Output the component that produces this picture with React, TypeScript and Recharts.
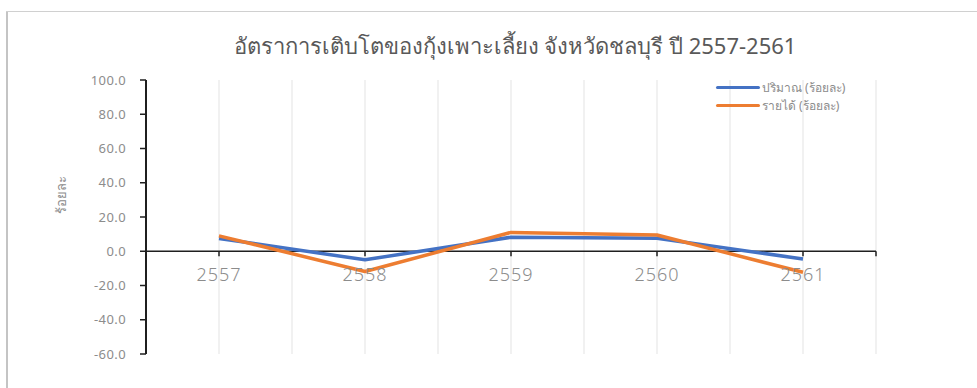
import { LineChart, Line, XAxis, YAxis, CartesianGrid, ReferenceLine } from "recharts";

const years = [2557, 2558, 2559, 2560, 2561];
const volumePct = [7.5, -5.0, 8.2, 7.6, -4.5];
const incomePct = [9.0, -11.8, 11.0, 9.5, -12.3];
const yTicks = [-60, -40, -20, 0, 20, 40, 60, 80, 100];
const xGridTicks = [2557, 2557.5, 2558, 2558.5, 2559, 2559.5, 2560, 2560.5, 2561, 2561.5];

const TITLE = "อัตราการเติบโตของกุ้งเพาะเลี้ยง จังหวัดชลบุรี ปี 2557-2561";
const Y_LABEL = "ร้อยละ";
const VOLUME_NAME = "ปริมาณ (ร้อยละ)";
const INCOME_NAME = "รายได้ (ร้อยละ)";

const data = years.map((year, i) => ({
  year,
  volume: volumePct[i],
  income: incomePct[i],
}));

// full-bleed page, the chart owns the whole window
document.body.style.margin = "0";
document.body.style.overflow = "hidden";
document.documentElement.style.overflow = "hidden";

const W = 977;
const H = 388;
const MARGIN = { top: 80, right: 101, bottom: 4, left: 0 };
const X_AXIS_H = 30;
const Y_AXIS_W = 146;
const Y_DOMAIN: [number, number] = [-60, 100];

// y pixel of the zero line, used to hang the category labels off it
const plotH = H - MARGIN.top - MARGIN.bottom - X_AXIS_H;
const zeroY = MARGIN.top + (plotH * (Y_DOMAIN[1] - 0)) / (Y_DOMAIN[1] - Y_DOMAIN[0]);

const COLORS = {
  volume: "#4472C4",
  income: "#ED7D31",
  axis: "#1f1f1f",
  grid: "#ececec",
  tick: "#8c8c8c",
  title: "#595959",
};

const FONT = "'Noto Sans', 'DejaVu Sans', sans-serif";

const SERIES = [
  { key: "volume", name: VOLUME_NAME, color: COLORS.volume },
  { key: "income", name: INCOME_NAME, color: COLORS.income },
];

function YearTick({ x, payload }: { x?: number; payload?: { value: number } }) {
  const v = payload?.value ?? 0;
  const isYear = Number.isInteger(v);
  const isEnd = v === xGridTicks[xGridTicks.length - 1];
  if (!isYear && !isEnd) return null;
  return (
    <g>
      <line x1={x} x2={x} y1={zeroY} y2={zeroY + 5} stroke={COLORS.axis} strokeWidth={1.5} />
      {isYear && (
        <text
          x={x}
          y={zeroY + 30}
          textAnchor="middle"
          fill={COLORS.tick}
          fontSize={18}
          letterSpacing={1}
          fontFamily={FONT}
          fontWeight={300}
        >
          {v}
        </text>
      )}
    </g>
  );
}

export default function App() {
  return (
    <div style={{ position: "relative", width: W, height: H, overflow: "hidden", background: "#fff" }}>
      <div
        style={{
          position: "absolute",
          left: 0,
          top: 29,
          width: Y_AXIS_W + (W - MARGIN.right) + 8,
          textAlign: "center",
          fontSize: 22,
          color: COLORS.title,
          fontFamily: FONT,
          whiteSpace: "nowrap",
        }}
      >
        {TITLE}
      </div>
      <div style={{ position: "absolute", left: 0, top: 0 }}>
        <LineChart width={W} height={H} data={data} margin={MARGIN}>
          <CartesianGrid horizontal={false} stroke={COLORS.grid} strokeWidth={1.5} />
          <XAxis
            dataKey="year"
            type="number"
            domain={[2556.5, 2561.5]}
            ticks={xGridTicks}
            height={X_AXIS_H}
            axisLine={false}
            tickLine={false}
            tick={<YearTick />}
            interval={0}
          />
          <YAxis
            width={Y_AXIS_W}
            domain={Y_DOMAIN}
            ticks={yTicks}
            interval={0}
            tickFormatter={(v: number) => v.toFixed(1)}
            axisLine={{ stroke: COLORS.axis, strokeWidth: 2 }}
            tickLine={{ stroke: COLORS.axis, strokeWidth: 1.5 }}
            tickSize={6}
            tickMargin={14}
            tick={{ fill: COLORS.tick, fontSize: 13, fontFamily: FONT, letterSpacing: 0.4 }}
            label={{
              value: Y_LABEL,
              angle: -90,
              position: "insideLeft",
              offset: 61,
              dy: -3,
              fill: COLORS.tick,
              fontSize: 13,
              fontFamily: FONT,
            }}
          />
          <ReferenceLine y={0} stroke={COLORS.axis} strokeWidth={1.5} />
          {SERIES.map((s) => (
            <Line
              key={s.key}
              type="linear"
              dataKey={s.key}
              name={s.name}
              stroke={s.color}
              strokeWidth={3.5}
              strokeLinejoin="round"
              dot={false}
              isAnimationActive={false}
            />
          ))}
        </LineChart>
      </div>
      <div style={{ position: "absolute", left: 716, top: 80, display: "flex", flexDirection: "column", gap: 3 }}>
        {SERIES.map((s) => (
          <div key={s.key} style={{ display: "flex", alignItems: "center", height: 15 }}>
            <span
              style={{
                display: "inline-block",
                width: 44,
                height: 3.5,
                borderRadius: 2,
                background: s.color,
                marginRight: 2,
              }}
            />
            <span style={{ fontSize: 12, color: COLORS.tick, fontFamily: FONT }}>{s.name}</span>
          </div>
        ))}
      </div>
      {/* outer frame, open at the bottom and right */}
      <div style={{ position: "absolute", left: 6, top: 11, width: 2, height: H, background: "#c4c4c4" }} />
      <div style={{ position: "absolute", left: 6, top: 11, width: W, height: 1, background: "#d0d0d0" }} />
    </div>
  );
}
